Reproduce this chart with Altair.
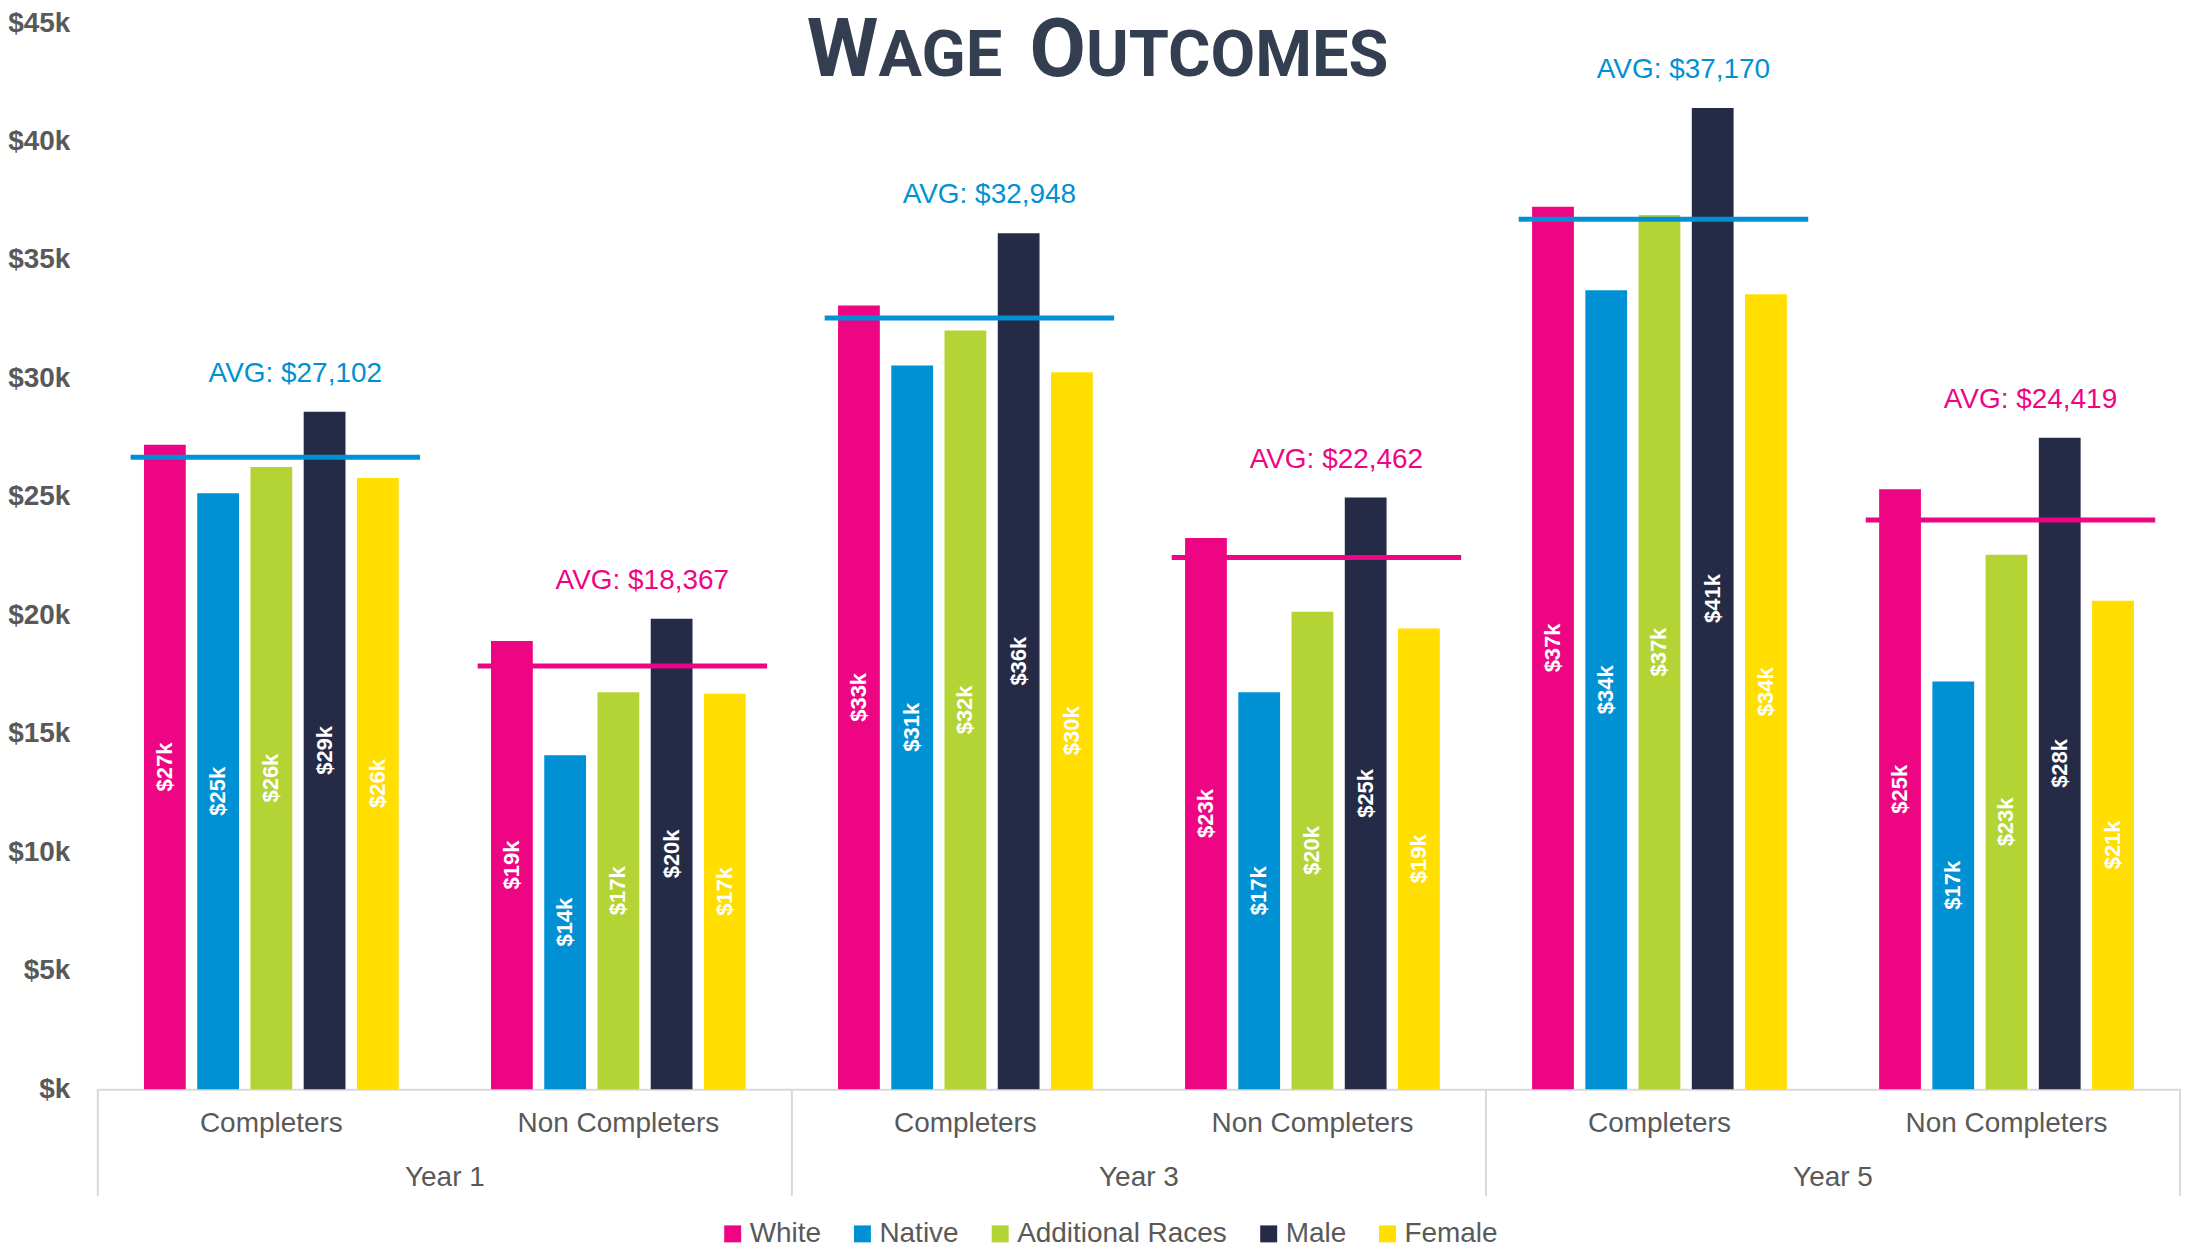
import altair as alt
import pandas as pd

# ---------------- data ----------------
years = ["Year 1", "Year 3", "Year 5"]
cats = ["Completers", "Non Completers"]
series = ["White", "Native", "Additional Races", "Male", "Female"]
colors = ["#EE0584", "#0091D5", "#B4D335", "#252B46", "#FFDE00"]

y1_comp = [27200, 25150, 26260, 28600, 25800]
y1_non = [18920, 14100, 16750, 19860, 16690]
y3_comp = [33080, 30550, 32020, 36130, 30260]
y3_non = [23270, 16750, 20150, 24970, 19450]
y5_comp = [37250, 33720, 36900, 41420, 33550]
y5_non = [25320, 17210, 22560, 27500, 20620]

avg_labels = ["AVG: $27,102", "AVG: $18,367", "AVG: $32,948",
              "AVG: $22,462", "AVG: $37,170", "AVG: $24,419"]
avg_line_level = [26670, 17860, 32550, 22440, 36720, 24030]

y_ticks = [0, 5000, 10000, 15000, 20000, 25000, 30000, 35000, 40000, 45000]

BLUE = "#0091D5"
MAG = "#EE0584"
GRAY = "#595959"
LINE_GRAY = "#D9D9D9"
TITLE_COL = "#333F50"
FONT = "Liberation Sans"

# ---------------- tables ----------------
group_values = [y1_comp, y1_non, y3_comp, y3_non, y5_comp, y5_non]
groups, grows, brows = [], [], []
i = 0
for yr in years:
    for c in cats:
        g = f"{yr}|{c}"
        groups.append(g)
        vals = group_values[i]
        for s, v in zip(series, vals):
            brows.append({"group": g, "series": s, "value": v,
                          "mid": v / 2, "lbl": f"${round(v / 1000)}k"})
        grows.append({"group": g, "year": yr, "cat": c,
                      "line": avg_line_level[i], "avg_label": avg_labels[i],
                      "top": max(vals)})
        i += 1

bdf = pd.DataFrame(brows)
gdf = pd.DataFrame(grows)
ydf = pd.DataFrame({"year": years})
tdf = pd.DataFrame({"t": [0]})

W, H = 2086, 1068

# ---------------- encodings ----------------
xscale = alt.Scale(domain=groups, paddingInner=0.233, paddingOuter=0.1165)
xaxis = alt.Axis(labels=False, ticks=False, title=None, domain=True,
                 domainColor=LINE_GRAY, domainWidth=2, grid=False)
x = alt.X("group:N", scale=xscale, sort=groups, axis=xaxis)
xoff = alt.XOffset("series:N", sort=series,
                   scale=alt.Scale(domain=series, paddingInner=0.215, paddingOuter=0.1075))
yscale = alt.Scale(domain=[0, 45000], nice=False)
yaxis = alt.Axis(values=y_ticks, title=None, ticks=False, domain=False, grid=False,
                 labelExpr="'$' + (datum.value == 0 ? '' : format(datum.value / 1000, 'd')) + 'k'",
                 labelFont=FONT, labelFontWeight="bold", labelFontSize=28,
                 labelColor=GRAY, labelPadding=28, minExtent=90, maxExtent=90)

avg_color = alt.condition("datum.cat == 'Completers'", alt.value(BLUE), alt.value(MAG))

bars = alt.Chart(bdf).mark_bar().encode(
    x=x, xOffset=xoff,
    y=alt.Y("value:Q", scale=yscale, axis=yaxis),
    color=alt.Color("series:N", sort=series,
                    scale=alt.Scale(domain=series, range=colors),
                    legend=alt.Legend(orient="none", direction="horizontal",
                                      legendX=622, legendY=H + 131, title=None,
                                      symbolType="square", symbolSize=289,
                                      symbolStrokeWidth=0, labelFont=FONT,
                                      labelFontSize=28, labelColor=GRAY,
                                      labelLimit=0,
                                      labelOffset=3, columnPadding=27)),
)

bar_labels = alt.Chart(bdf).mark_text(
    angle=270, color="white", font=FONT, fontWeight="bold", fontSize=22,
    baseline="middle", align="center"
).encode(x=x, xOffset=xoff, y=alt.Y("mid:Q", scale=yscale, axis=yaxis), text="lbl:N")

avg_ticks = alt.Chart(gdf).mark_tick(size=290, thickness=5, xOffset=4, opacity=1).encode(
    x=x, y=alt.Y("line:Q", scale=yscale, axis=yaxis), color=avg_color
)

avg_text = alt.Chart(gdf).mark_text(
    font=FONT, fontSize=28, baseline="middle", align="center", dx=24, dy=-38
).encode(x=x, y=alt.Y("top:Q", scale=yscale, axis=yaxis), text="avg_label:N", color=avg_color)

sub_labels = alt.Chart(gdf).mark_text(
    font=FONT, fontSize=28, color=GRAY, baseline="middle", align="center"
).encode(x=x, y=alt.value(H + 35), text="cat:N")

# title in small caps
TF = "Roboto"
BIG, SMALL = 82, 65
x1, x2, base_y = 782, 990, 53
t_w = alt.Chart(tdf).mark_text(font=TF, fontWeight="bold", fontSize=BIG, color=TITLE_COL,
                               align="right", baseline="alphabetic").encode(
    x=alt.value(x1), y=alt.value(base_y), text=alt.value("W"))
t_age = alt.Chart(tdf).mark_text(font=TF, fontWeight="bold", fontSize=SMALL, color=TITLE_COL,
                                 align="left", baseline="alphabetic").encode(
    x=alt.value(x1), y=alt.value(base_y), text=alt.value("AGE"))
t_o = alt.Chart(tdf).mark_text(font=TF, fontWeight="bold", fontSize=BIG, color=TITLE_COL,
                               align="right", baseline="alphabetic").encode(
    x=alt.value(x2), y=alt.value(base_y), text=alt.value("O"))
t_ut = alt.Chart(tdf).mark_text(font=TF, fontWeight="bold", fontSize=SMALL, color=TITLE_COL,
                                align="left", baseline="alphabetic").encode(
    x=alt.value(x2), y=alt.value(base_y), text=alt.value("UTCOMES"))

inner = alt.layer(bars, bar_labels, avg_ticks, avg_text, sub_labels,
                  t_w, t_age, t_o, t_ut)

yr_scale = alt.Scale(domain=years, paddingInner=0, paddingOuter=0)
year_text = alt.Chart(ydf).mark_text(
    font=FONT, fontSize=28, color=GRAY, baseline="middle", align="center"
).encode(x=alt.X("year:N", scale=yr_scale, sort=years, axis=None),
         y=alt.value(H + 89), text="year:N")
seps = alt.Chart(ydf).mark_rule(color=LINE_GRAY, strokeWidth=2).encode(
    x=alt.X("year:N", scale=yr_scale, sort=years, axis=None, bandPosition=0),
    y=alt.value(H), y2=alt.value(H + 107))
sep_end = alt.Chart(ydf).transform_filter("datum.year == 'Year 5'").mark_rule(
    color=LINE_GRAY, strokeWidth=2).encode(
    x=alt.X("year:N", scale=yr_scale, sort=years, axis=None, bandPosition=1),
    y=alt.value(H), y2=alt.value(H + 107))

chart = alt.layer(inner, year_text, seps, sep_end).resolve_scale(
    x="independent"
).properties(
    width=W, height=H,
    autosize=alt.AutoSizeParams(type="none"),
    padding={"left": 90, "top": 14, "right": 8, "bottom": 160},
).configure_view(stroke=None)

chart.save("out.html", embed_options={"renderer": "svg", "actions": False})
